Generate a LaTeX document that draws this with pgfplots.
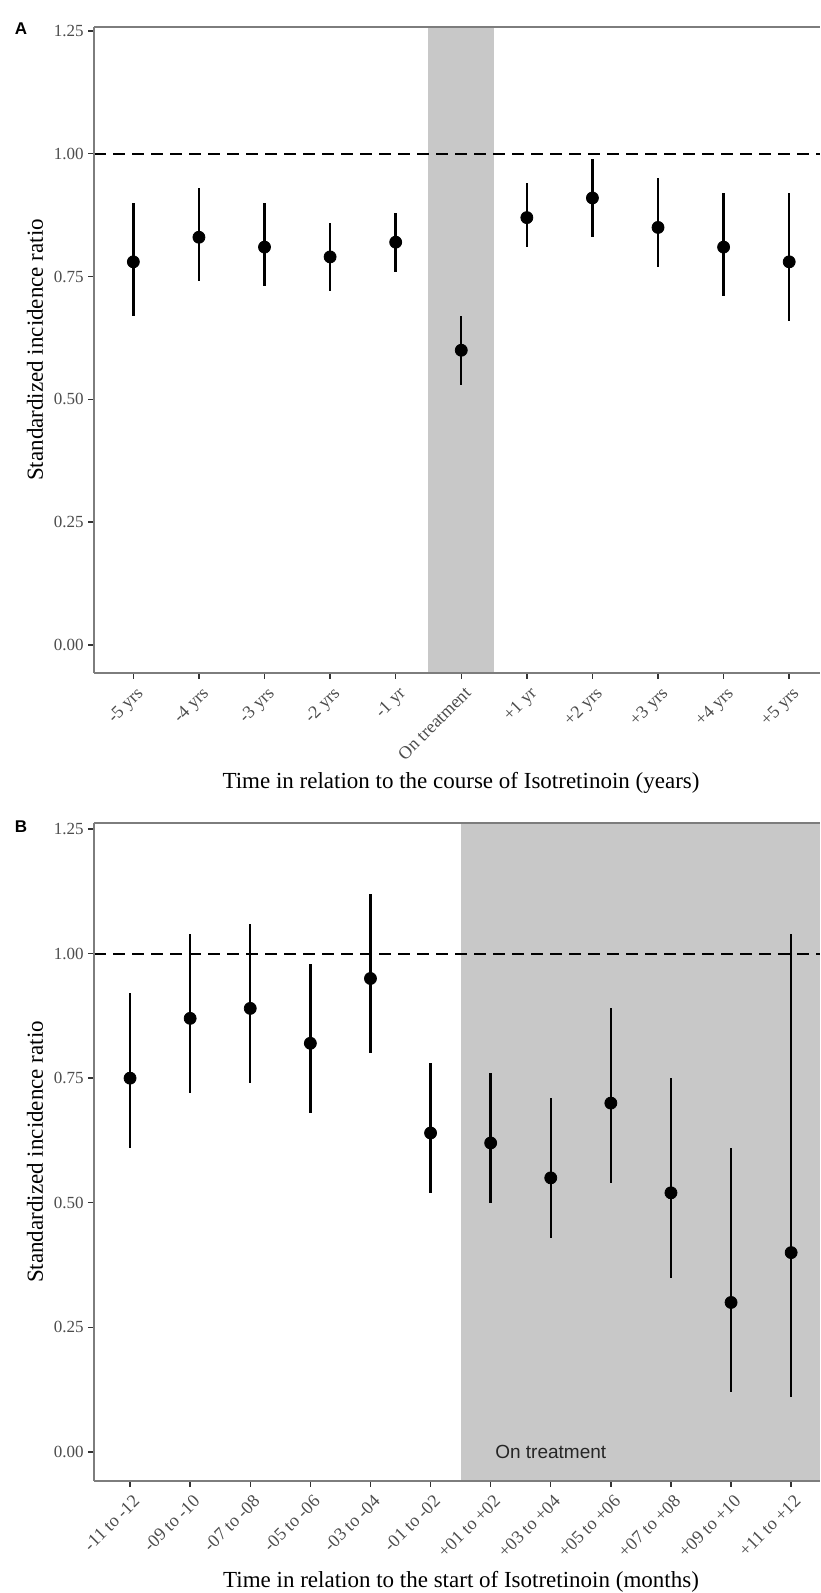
\documentclass[border=0pt]{standalone}
\usepackage{fontspec}
\setmainfont{Liberation Serif}
\newfontfamily\sansf{Liberation Sans}
\usepackage{pgfplots}
\pgfplotsset{compat=1.18}
\usepackage{pgfplotstable}

\definecolor{shade}{RGB}{200,200,200}
\definecolor{frame}{RGB}{125,125,125}

% panel A: years around the course
\pgfplotstableread{
x y lo hi
1 0.78 0.67 0.90
2 0.83 0.74 0.93
3 0.81 0.73 0.90
4 0.79 0.72 0.86
5 0.82 0.76 0.88
6 0.60 0.53 0.67
7 0.87 0.81 0.94
8 0.91 0.83 0.99
9 0.85 0.77 0.95
10 0.81 0.71 0.92
11 0.78 0.66 0.92
}\dataA

% panel B: two-month windows around the start
\pgfplotstableread{
x y lo hi
1 0.75 0.61 0.92
2 0.87 0.72 1.04
3 0.89 0.74 1.06
4 0.82 0.68 0.98
5 0.95 0.80 1.12
6 0.64 0.52 0.78
7 0.62 0.50 0.76
8 0.55 0.43 0.71
9 0.70 0.54 0.89
10 0.52 0.35 0.75
11 0.30 0.12 0.61
12 0.40 0.11 1.04
}\dataB

\pgfplotsset{
  sir/.style={
    scale only axis, anchor=south west, axis on top,
    axis x line=bottom, axis y line=left,
    axis line style={frame, line width=0.7pt, -},
    tick align=outside, major tick length=3pt,
    tick style={black!80, line width=0.7pt},
    ytick={0,0.25,0.5,0.75,1,1.25},
    yticklabels={0.00,0.25,0.50,0.75,1.00,1.25},
    tick label style={text=black!70},
    y tick label style={inner sep=2pt, font=\fontsize{8.5}{10}\selectfont},
    x tick label style={rotate=45, anchor=north east, inner sep=1.5pt,
      yshift=-1.5pt, font=\fontsize{9}{10}\selectfont},
  },
  cibars/.style={only marks, mark=*, mark size=3pt, black,
    error bars/.cd, y dir=both, y explicit, error mark=none,
    error bar style={line width=1.2pt, black}},
}

\begin{document}
\begin{tikzpicture}
% ---------- A ----------
\begin{axis}[sir, at={(47pt,460pt)}, width=363pt, height=323pt,
  xmin=0.4, xmax=11.47, ymin=-0.057, ymax=1.2581,
  xtick={1,...,11},
  xticklabels={-5 yrs,-4 yrs,-3 yrs,-2 yrs,-1 yr,On treatment,+1 yr,+2 yrs,+3 yrs,+4 yrs,+5 yrs}]
  \addplot[fill=shade, draw=none] coordinates {(5.5,-0.057) (6.5,-0.057) (6.5,1.2581) (5.5,1.2581)} -- cycle;
  \addplot[black, line width=1pt, dash pattern=on 6pt off 3.5pt] coordinates {(0.4,1) (11.47,1)};
  \addplot[cibars] table[x=x, y=y, y error plus expr=\thisrow{hi}-\thisrow{y}, y error minus expr=\thisrow{y}-\thisrow{lo}] {\dataA};
  \draw[frame, line width=0.7pt] (rel axis cs:0,1) -- (rel axis cs:1,1);
\end{axis}

% ---------- B ----------
\begin{axis}[sir, at={(47pt,56pt)}, width=363pt, height=329pt,
  xmin=0.4, xmax=12.48, ymin=-0.0582, ymax=1.262,
  xtick={1,...,12},
  xticklabels={-11 to -12,-09 to -10,-07 to -08,-05 to -06,-03 to -04,-01 to -02,+01 to +02,+03 to +04,+05 to +06,+07 to +08,+09 to +10,+11 to +12}]
  \addplot[fill=shade, draw=none] coordinates {(6.5,-0.0582) (12.48,-0.0582) (12.48,1.262) (6.5,1.262)} -- cycle;
  \addplot[black, line width=1pt, dash pattern=on 6pt off 3.5pt] coordinates {(0.4,1) (12.48,1)};
  \addplot[cibars] table[x=x, y=y, y error plus expr=\thisrow{hi}-\thisrow{y}, y error minus expr=\thisrow{y}-\thisrow{lo}] {\dataB};
  \node[font=\sansf\fontsize{9.5}{11}\selectfont, text=black!85] at (axis cs:8,0) {On treatment};
  \draw[frame, line width=0.7pt] (rel axis cs:0,1) -- (rel axis cs:1,1);
\end{axis}

% titles and panel letters
\node[font=\fontsize{11.5}{13}\selectfont] at (230.5pt,405pt) {Time in relation to the course of Isotretinoin (years)};
\node[font=\fontsize{11.5}{13}\selectfont] at (230.5pt,5.8pt) {Time in relation to the start of Isotretinoin (months)};
\node[font=\fontsize{11.5}{13}\selectfont, rotate=90] at (17.5pt,621.5pt) {Standardized incidence ratio};
\node[font=\fontsize{11.5}{13}\selectfont, rotate=90] at (17.5pt,220.5pt) {Standardized incidence ratio};
\node[font=\sansf\bfseries\fontsize{8.5}{10}\selectfont] at (10.5pt,782pt) {A};
\node[font=\sansf\bfseries\fontsize{8.5}{10}\selectfont] at (10.5pt,383pt) {B};

\pgfresetboundingbox
\path (0,0) rectangle (410pt,796.5pt);
\end{tikzpicture}
\end{document}
